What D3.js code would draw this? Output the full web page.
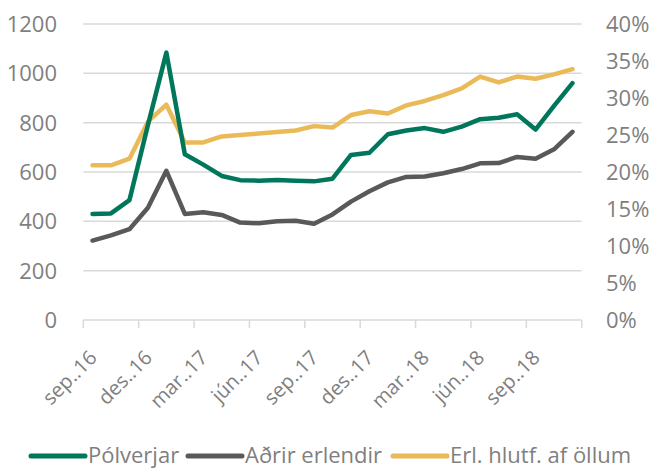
<!DOCTYPE html>
<html>
<head>
<meta charset="utf-8">
<script src="https://cdn.jsdelivr.net/npm/d3@7/dist/d3.min.js"></script>
<style>
  html, body { margin: 0; padding: 0; background: #ffffff; }
  svg { display: block; }
  text { font-family: "Open Sans", "Noto Sans", sans-serif; fill: #7f7f7f; }
</style>
</head>
<body>
<svg id="chart" width="655" height="468"></svg>
<script>
// ---- Data ----
const months = ["sep.16","okt.16","nóv.16","des.16","jan.17","feb.17","mar.17","apr.17","maí.17","jún.17","júl.17","ágú.17",
  "sep.17","okt.17","nóv.17","des.17","jan.18","feb.18","mar.18","apr.18","maí.18","jún.18","júl.18","ágú.18",
  "sep.18","okt.18","nóv.18"];
const polverjar = [430, 432, 486, 790, 1084, 672, 630, 584, 567, 565, 568, 565, 562, 573, 669, 678, 753, 768,
  778, 763, 784, 814, 820, 834, 772, 868, 960];
const adrirErlendir = [322, 343, 368, 455, 605, 430, 437, 426, 395, 392, 400, 402, 390, 428, 480, 522, 558, 580,
  582, 595, 612, 635, 636, 661, 654, 692, 763];
const erlHlutfall = [0.209, 0.209, 0.218, 0.268, 0.291, 0.240, 0.240, 0.248, 0.250, 0.252, 0.254, 0.256, 0.262, 0.260,
  0.277, 0.282, 0.279, 0.290, 0.296, 0.304, 0.313, 0.329, 0.321, 0.329, 0.326, 0.332, 0.339];
const xTickLabels = ["sep..16","des..16","mar..17","jún..17","sep..17","des..17","mar..18","jún..18","sep..18"];
const leftTicks = [0, 200, 400, 600, 800, 1000, 1200];
const rightTicks = [0, 0.05, 0.10, 0.15, 0.20, 0.25, 0.30, 0.35, 0.40];
const seriesNames = ["Pólverjar", "Aðrir erlendir", "Erl. hlutf. af öllum"];
const seriesColors = ["#00775a", "#595959", "#ebba58"];

// ---- Layout ----
const svg = d3.select("#chart");
const pLeft = 83.3, pRight = 581.7, pTop = 24, pBottom = 320;

const x = d3.scaleBand().domain(months).range([pLeft, pRight]).padding(0);
const cx = d => x(d) + x.bandwidth() / 2;
const yL = d3.scaleLinear().domain([0, 1200]).range([pBottom, pTop]);
const yR = d3.scaleLinear().domain([0, 0.4]).range([pBottom, pTop]);

const gridColor = "#d9d9d9";

// gridlines
svg.append("g").selectAll("line").data(leftTicks).join("line")
  .attr("x1", pLeft).attr("x2", pRight)
  .attr("y1", d => yL(d)).attr("y2", d => yL(d))
  .attr("stroke", gridColor).attr("stroke-width", 1.5);

// x tick marks at every third category boundary
const tickIdx = d3.range(0, months.length + 1, 3);
svg.append("g").selectAll("line").data(tickIdx).join("line")
  .attr("x1", i => i < months.length ? x(months[i]) : pRight)
  .attr("x2", i => i < months.length ? x(months[i]) : pRight)
  .attr("y1", pBottom).attr("y2", pBottom + 8)
  .attr("stroke", gridColor).attr("stroke-width", 1.5);

// left axis labels
svg.append("g").selectAll("text").data(leftTicks).join("text")
  .attr("x", 57).attr("y", d => yL(d)).attr("dy", "0.36em")
  .attr("text-anchor", "end").attr("font-size", 22)
  .text(d => d);

// right axis labels
svg.append("g").selectAll("text").data(rightTicks).join("text")
  .attr("x", 606).attr("y", d => yR(d)).attr("dy", "0.36em")
  .attr("text-anchor", "start").attr("font-size", 22)
  .text(d => Math.round(d * 100) + "%");

// x labels (every third month)
svg.append("g").selectAll("text").data(xTickLabels).join("text")
  .attr("transform", (d, i) => `translate(${cx(months[i * 3]) + 5.5},${pBottom + 39}) rotate(-45)`)
  .attr("text-anchor", "end").attr("font-size", 20)
  .text(d => d);

// lines
const lineL = d3.line().x((d, i) => cx(months[i])).y(d => yL(d));
const lineR = d3.line().x((d, i) => cx(months[i])).y(d => yR(d));

svg.append("path").datum(erlHlutfall).attr("d", lineR)
  .attr("fill", "none").attr("stroke", seriesColors[2]).attr("stroke-width", 4.5)
  .attr("stroke-linejoin", "round").attr("stroke-linecap", "round");
svg.append("path").datum(adrirErlendir).attr("d", lineL)
  .attr("fill", "none").attr("stroke", seriesColors[1]).attr("stroke-width", 4.5)
  .attr("stroke-linejoin", "round").attr("stroke-linecap", "round");
svg.append("path").datum(polverjar).attr("d", lineL)
  .attr("fill", "none").attr("stroke", seriesColors[0]).attr("stroke-width", 4.5)
  .attr("stroke-linejoin", "round").attr("stroke-linecap", "round");

// legend
const legendX = [31, 188, 393];
const lg = svg.append("g");
seriesNames.forEach((name, i) => {
  lg.append("line")
    .attr("x1", legendX[i]).attr("x2", legendX[i] + 54)
    .attr("y1", 456).attr("y2", 456)
    .attr("stroke", seriesColors[i]).attr("stroke-width", 5).attr("stroke-linecap", "round");
  lg.append("text")
    .attr("x", legendX[i] + 57).attr("y", 463)
    .attr("font-size", 22)
    .text(name);
});
</script>
</body>
</html>
